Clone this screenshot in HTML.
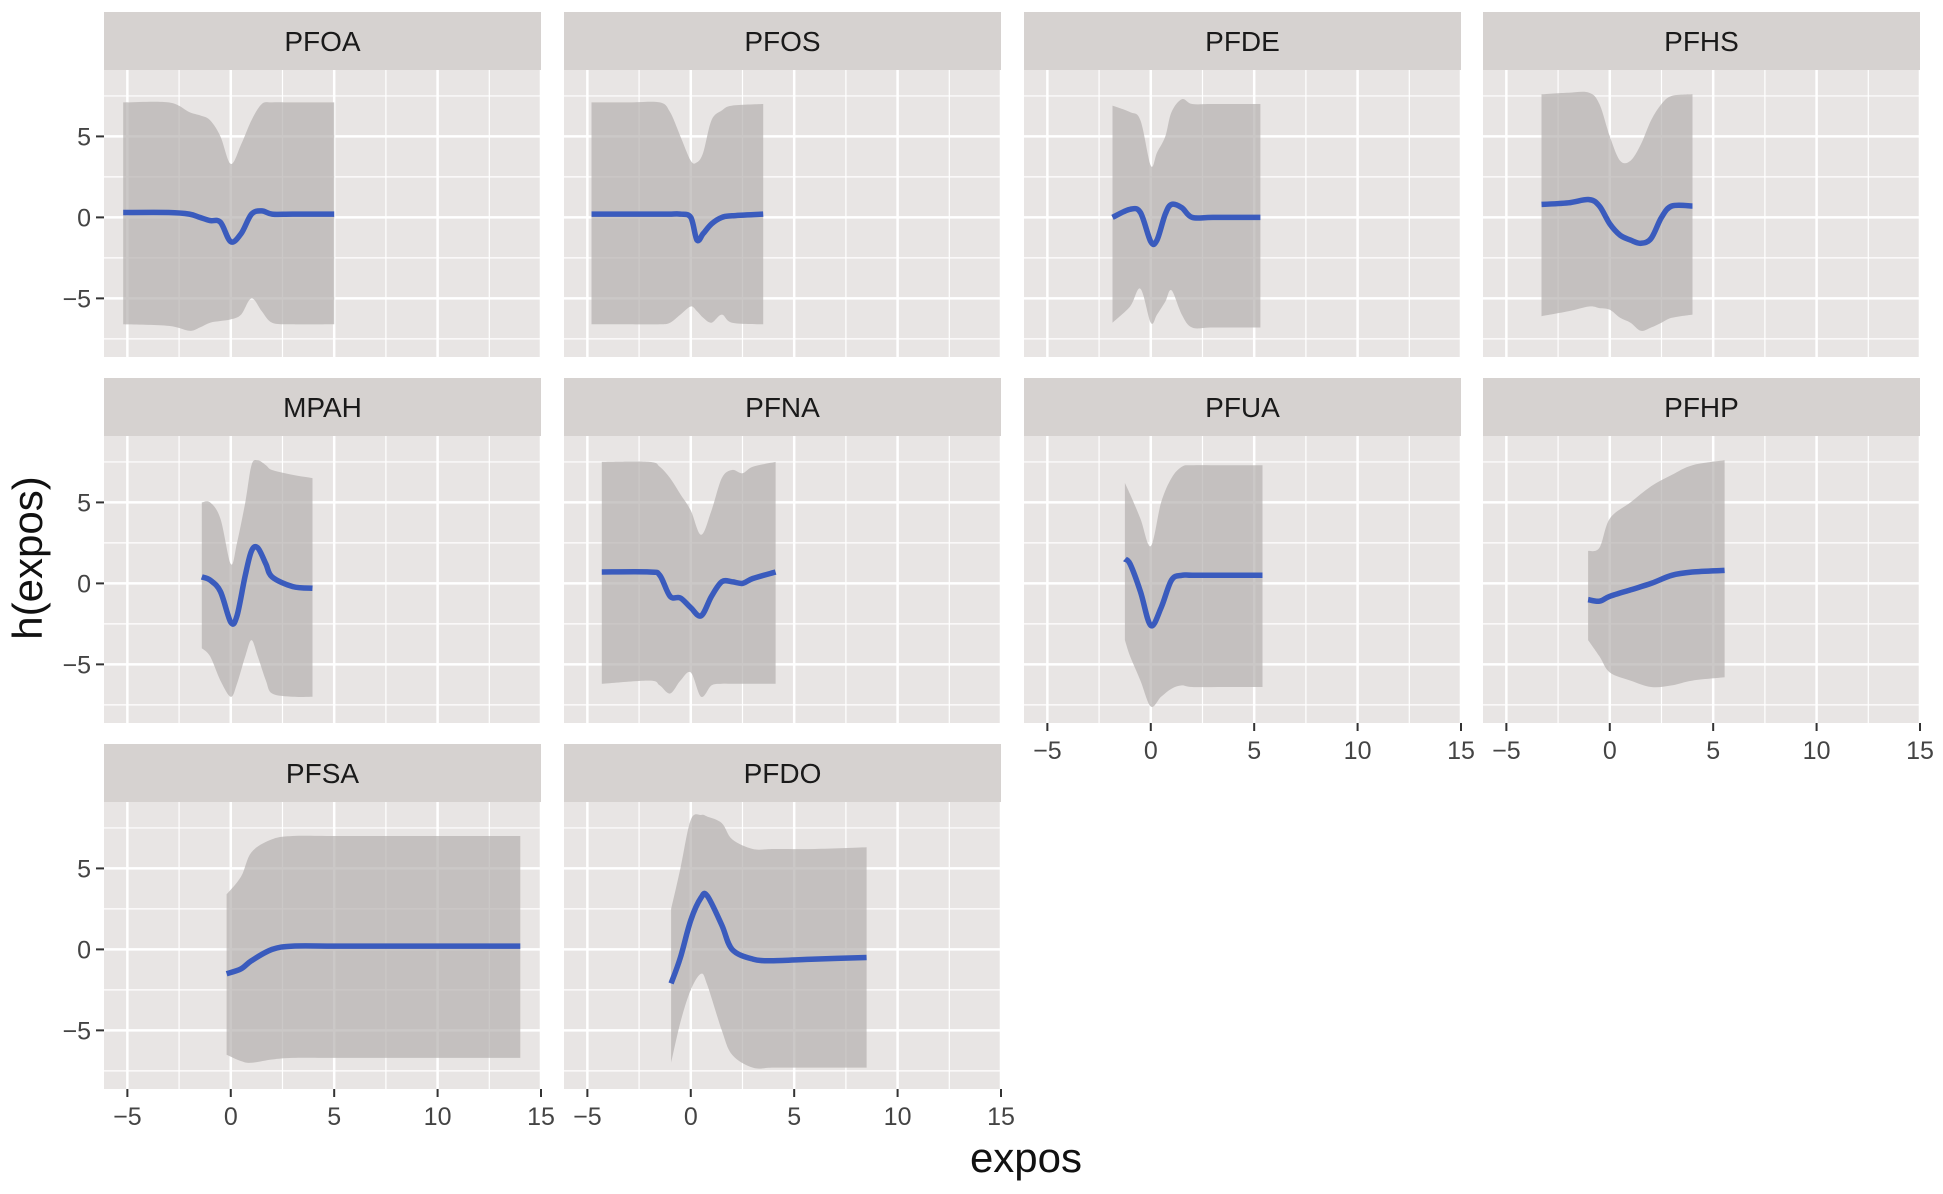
<!DOCTYPE html>
<html><head><meta charset="utf-8"><style>
html,body{margin:0;padding:0;background:#fff;}
svg{display:block;font-family:"Liberation Sans",Arial,sans-serif;}
</style></head><body>
<svg id="chart" width="1943" height="1194" viewBox="0 0 1943 1194" xmlns="http://www.w3.org/2000/svg">
<text x="0" y="0" transform="translate(42,558) rotate(-90)" text-anchor="middle" font-size="42" fill="#111">h(expos)</text>
<text x="1026" y="1172" text-anchor="middle" font-size="42" fill="#111">expos</text>
</svg>
<script>
const panelNames = ["PFOA","PFOS","PFDE","PFHS","MPAH","PFNA","PFUA","PFHP","PFSA","PFDO"];
const xTicks = [-5,0,5,10,15];
const yTicks = [-5,0,5];
const xVals = [
 [-5.2,-3,-2,-1.5,-1,-0.5,0,0.5,1,1.5,2,3,5],
 [-4.8,-3,-1.5,-1,-0.5,0,0.3,0.6,1,1.5,2,3.5],
 [-1.85,-1,-0.5,0,0.3,0.7,1,1.5,2,3,5.3],
 [-3.3,-2,-1,-0.5,0,0.5,1,1.5,2,2.5,3,4],
 [-1.4,-1,-0.5,0,0.3,0.7,1,1.3,1.7,2,3,3.95],
 [-4.3,-2,-1.5,-1,-0.5,0,0.5,1,1.5,2,2.5,3,4.1],
 [-1.25,-1,-0.5,0,0.5,1,1.5,2,3.5,5.4],
 [-1.05,-0.5,0,1,2,3,4,5.55],
 [-0.2,0.5,1,2,3,5,8,11,14],
 [-0.95,-0.5,0,0.5,0.8,1.5,2,3,4,6,8.5]
];
const fitVals = [
 [0.3,0.3,0.2,0,-0.2,-0.3,-1.5,-1.0,0.2,0.4,0.2,0.2,0.2],
 [0.2,0.2,0.2,0.2,0.2,0.0,-1.4,-1.0,-0.4,0,0.1,0.2],
 [0,0.5,0.3,-1.5,-1.4,0.2,0.8,0.6,0,0,0],
 [0.8,0.9,1.1,0.7,-0.4,-1.1,-1.4,-1.6,-1.3,0,0.7,0.7],
 [0.4,0.2,-0.5,-2.4,-2,0.5,2,2.2,1.2,0.4,-0.2,-0.3],
 [0.7,0.7,0.5,-0.8,-0.9,-1.5,-2,-0.8,0.1,0.1,0,0.3,0.7],
 [1.5,1.2,-0.5,-2.6,-1.5,0.2,0.5,0.5,0.5,0.5],
 [-1,-1.1,-0.8,-0.4,0,0.5,0.7,0.8],
 [-1.5,-1.2,-0.7,0,0.2,0.2,0.2,0.2,0.2],
 [-2.1,-0.5,1.8,3.2,3.3,1.5,0,-0.6,-0.7,-0.6,-0.5]
];
const upperVals = [
 [7.1,7.1,6.5,6.3,6,5,3.3,4.5,6,7,7.1,7.1,7.1],
 [7.1,7.1,7.1,6.5,5,3.5,3.4,4,6,6.6,6.9,7],
 [6.9,6.5,6,3.2,4,5,6.5,7.3,7,7,7],
 [7.6,7.7,7.7,7,5,3.5,3.5,4.5,6,7,7.5,7.6],
 [5,5,4,1.2,2.5,5,7.3,7.6,7.3,7,6.7,6.5],
 [7.5,7.5,7.2,6.5,5.5,4.5,3,4.5,6.5,7,6.8,7.2,7.5],
 [6.2,5.5,4,2.3,5,6.5,7.2,7.3,7.3,7.3],
 [2,2.2,4,5,6,6.7,7.3,7.6],
 [3.4,4.5,6,6.8,7,7,7,7,7],
 [2.5,5,8,8.3,8.2,7.8,6.8,6.2,6.2,6.2,6.3]
];
const lowerVals = [
 [-6.6,-6.7,-7,-6.8,-6.5,-6.4,-6.3,-6,-5,-5.8,-6.5,-6.6,-6.6],
 [-6.6,-6.6,-6.6,-6.5,-6,-5.5,-5.8,-6.2,-6.5,-6,-6.5,-6.6],
 [-6.5,-5.5,-4.4,-6.5,-6,-5.2,-4.5,-6,-6.8,-6.8,-6.8],
 [-6.1,-5.8,-5.5,-5.6,-5.7,-6.2,-6.5,-7,-6.8,-6.5,-6.2,-6],
 [-4,-4.5,-6,-7,-6.2,-4.5,-3.5,-4.5,-6,-6.8,-7,-7],
 [-6.2,-6,-6.3,-6.8,-6,-5.5,-7,-6.3,-6.2,-6.2,-6.2,-6.2,-6.2],
 [-3.5,-4.5,-6,-7.6,-7,-6.5,-6.3,-6.4,-6.4,-6.4],
 [-3.5,-4.5,-5.5,-6,-6.4,-6.3,-6,-5.8],
 [-6.5,-6.9,-7,-6.8,-6.7,-6.7,-6.7,-6.7,-6.7],
 [-7,-4.5,-2.5,-1.5,-2.2,-5,-6.5,-7.3,-7.3,-7.3,-7.3]
];

const NS="http://www.w3.org/2000/svg";
const svg=document.getElementById('chart');
const L=[104,564,1024,1483], W=437, T=[12,378,744], SH=58, BH=287;
const XMIN=-6.13, XMAX=15.0, YTOP=9.1, YBOT=-8.62;
function mk(tag,attrs,parent){const e=document.createElementNS(NS,tag);for(const k in attrs)e.setAttribute(k,attrs[k]);(parent||svg).appendChild(e);return e;}
function path(pts){
  let d="M"+pts[0][0].toFixed(1)+","+pts[0][1].toFixed(1);
  for(let i=0;i<pts.length-1;i++){
    const p0=pts[Math.max(0,i-1)],p1=pts[i],p2=pts[i+1],p3=pts[Math.min(pts.length-1,i+2)];
    const c1=[p1[0]+(p2[0]-p0[0])/6,p1[1]+(p2[1]-p0[1])/6];
    const c2=[p2[0]-(p3[0]-p1[0])/6,p2[1]-(p3[1]-p1[1])/6];
    d+=" C"+c1[0].toFixed(1)+","+c1[1].toFixed(1)+" "+c2[0].toFixed(1)+","+c2[1].toFixed(1)+" "+p2[0].toFixed(1)+","+p2[1].toFixed(1);
  }
  return d;
}
const bottomPanels=[6,7,8,9];
panelNames.forEach((name,i)=>{
  const r=Math.floor(i/4), c=i%4;
  const left=L[c], top=T[r]+SH;
  const sx=v=>left+(v-XMIN)/(XMAX-XMIN)*W;
  const sy=v=>top+(YTOP-v)/(YTOP-YBOT)*BH;
  const g=mk('g',{});
  
  
  const strip=mk('rect',{x:left,y:T[r],width:W,height:SH,fill:'#d6d2d0'},g);
  
  
  const st=mk('text',{x:left+W/2,y:T[r]+39,'text-anchor':'middle','font-size':28,fill:'#1a1a1a'},g);
  st.textContent=name;
  
  
  const bg=mk('rect',{x:left,y:top,width:W,height:BH,fill:'#e8e5e4'},g);
  
  
  [-2.5,2.5,7.5,12.5].forEach(v=>mk('line',{x1:sx(v),x2:sx(v),y1:top,y2:top+BH,stroke:'#fff','stroke-width':1.2},g));
  [-7.5,-2.5,2.5,7.5].forEach(v=>mk('line',{x1:left,x2:left+W,y1:sy(v),y2:sy(v),stroke:'#fff','stroke-width':1.2},g));
  xTicks.forEach(v=>mk('line',{x1:sx(v),x2:sx(v),y1:top,y2:top+BH,stroke:'#fff','stroke-width':2.5},g));
  yTicks.forEach(v=>mk('line',{x1:left,x2:left+W,y1:sy(v),y2:sy(v),stroke:'#fff','stroke-width':2.5},g));
  const xs=xVals[i];
  const up=xs.map((x,k)=>[sx(x),sy(upperVals[i][k])]);
  const lo=xs.map((x,k)=>[sx(x),sy(lowerVals[i][k])]).reverse();
  const rib=mk('path',{d:path(up)+" L"+path(lo).slice(1)+" Z",fill:'#b5b0af','fill-opacity':0.7},g);
  
  
  const ln=mk('path',{d:path(xs.map((x,k)=>[sx(x),sy(fitVals[i][k])])),fill:'none',stroke:'#3a5bbd','stroke-width':5.5,'stroke-linejoin':'round'},g);
  
  
  if(c===0){
    yTicks.forEach(v=>{
      mk('line',{x1:left-8,x2:left,y1:sy(v),y2:sy(v),stroke:'#333','stroke-width':2},g);
      const t=mk('text',{x:left-13,y:sy(v)+9,'text-anchor':'end','font-size':25,fill:'#444'},g);
      t.textContent=v<0?'\u2212'+Math.abs(v):String(v);
      
      
    });
  }
  if(bottomPanels.includes(i)){
    xTicks.forEach(v=>{
      mk('line',{x1:sx(v),x2:sx(v),y1:top+BH,y2:top+BH+8,stroke:'#333','stroke-width':2},g);
      const t=mk('text',{x:sx(v),y:top+BH+36,'text-anchor':'middle','font-size':25,fill:'#444'},g);
      t.textContent=v<0?'\u2212'+Math.abs(v):String(v);
      
      
    });
  }
});
</script>
</body></html>
